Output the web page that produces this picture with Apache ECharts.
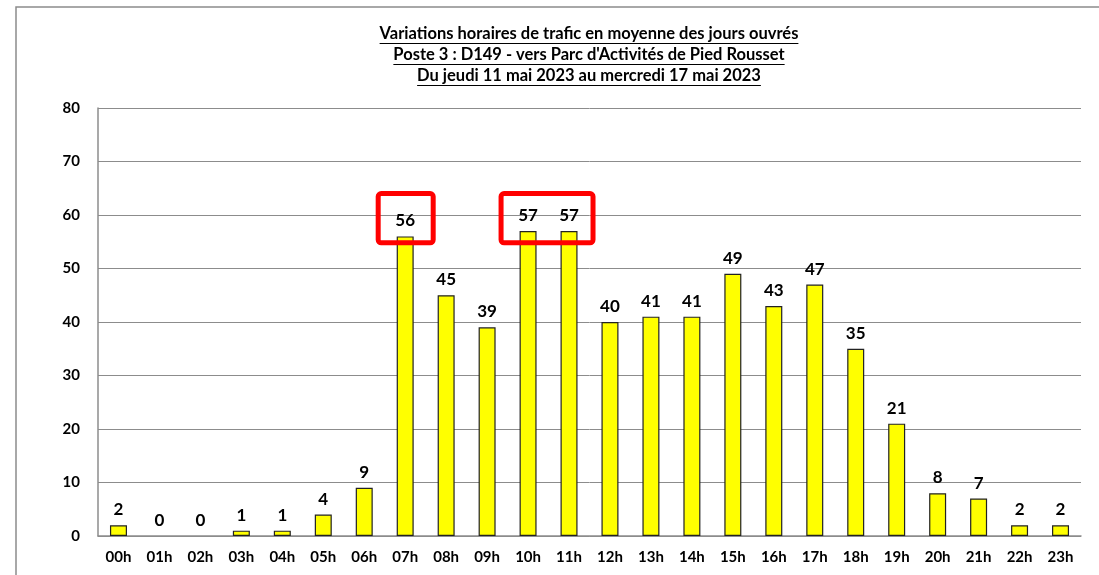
<!DOCTYPE html>
<html>
<head>
<meta charset="utf-8">
<script src="https://cdn.jsdelivr.net/npm/echarts@6/dist/echarts.min.js"></script>
<style>
  html, body { margin: 0; padding: 0; background: #fff; }
  #chart { width: 1099px; height: 575px; }
</style>
</head>
<body>
<div id="chart"></div>
<script>
// heures
const hours = ['00h', '01h', '02h', '03h', '04h', '05h', '06h', '07h', '08h', '09h', '10h', '11h',
  '12h', '13h', '14h', '15h', '16h', '17h', '18h', '19h', '20h', '21h', '22h', '23h']
// trafic moyen
const traffic = [2, 0, 0, 1, 1, 4, 9, 56, 45, 39, 57, 57, 40, 41, 41, 49, 43, 47, 35, 21, 8, 7, 2, 2]
const titleLines = [
  'Variations horaires de trafic en moyenne des jours ouvrés',
  'Poste 3 : D149 - vers Parc d\'Activités de Pied Rousset',
  'Du jeudi 11 mai 2023 au mercredi 17 mai 2023'
]
// encadrés rouges : [première heure, dernière heure]
const highlights = [['07h', '07h'], ['10h', '11h']]

const FONT = 'Lato, "Open Sans", sans-serif'

let chart = echarts.init(document.getElementById('chart'))
chart.setOption({
  animation: false,
  grid: { left: 98, right: 18, top: 108, bottom: 39 },
  xAxis: {
    type: 'category',
    data: hours,
    axisLine: { lineStyle: { color: '#8c8c8c', width: 1.5 } },
    axisTick: { show: false },
    axisLabel: { color: '#000', fontWeight: 'bold', fontSize: 15, fontFamily: FONT, margin: 14 }
  },
  yAxis: {
    type: 'value',
    min: 0,
    max: 80,
    interval: 10,
    axisLine: { show: true, lineStyle: { color: '#8c8c8c', width: 1.5 } },
    axisTick: { show: false },
    splitLine: { lineStyle: { color: '#8c8c8c', width: 1 } },
    axisLabel: { color: '#000', fontWeight: 'bold', fontSize: 15, fontFamily: FONT, margin: 18 }
  },
  series: [
    {
      type: 'bar',
      // pas de bordure pour les barres à zéro
      data: traffic.map(v => v === 0 ? { value: v, itemStyle: { borderWidth: 0 } } : v),
      barWidth: 17,
      itemStyle: { color: '#ffff00', borderColor: '#222', borderWidth: 1.2 },
      label: {
        show: true,
        position: 'top',
        distance: 7,
        color: '#000',
        fontWeight: 'bold',
        fontSize: 17,
        fontFamily: FONT
      }
    }
  ]
})

// titre souligné + cadre + encadrés
let ctx = document.createElement('canvas').getContext('2d')
let titleFont = 'bold 16.5px ' + FONT
ctx.font = titleFont
let cx = 589
let elements = [
  {
    type: 'rect',
    shape: { x: 16, y: 7, width: 1200, height: 700 },
    style: { fill: 'none', stroke: '#8c8c8c', lineWidth: 1.5 },
    silent: true
  }
]
titleLines.forEach((t, i) => {
  let y = 34 + i * 21
  let w = ctx.measureText(t).width
  elements.push({
    type: 'text',
    x: cx,
    y: y,
    style: { text: t, fill: '#000', font: titleFont, align: 'center', verticalAlign: 'middle' }
  })
  elements.push({
    type: 'line',
    shape: { x1: cx - w / 2, y1: y + 9.5, x2: cx + w / 2, y2: y + 9.5 },
    style: { stroke: '#000', lineWidth: 1.2 }
  })
})
highlights.forEach(h => {
  let p1 = chart.convertToPixel({ seriesIndex: 0 }, [h[0], 64])
  let p2 = chart.convertToPixel({ seriesIndex: 0 }, [h[1], 54.8])
  let left = p1[0] - 27
  let right = p2[0] + (h[0] === h[1] ? 28 : 24)
  elements.push({
    type: 'rect',
    shape: { x: left, y: p1[1], width: right - left, height: p2[1] - p1[1], r: 3 },
    style: { fill: 'none', stroke: '#ff0000', lineWidth: 5 },
    z: 100
  })
})
chart.setOption({ graphic: { elements: elements } })
</script>
</body>
</html>
